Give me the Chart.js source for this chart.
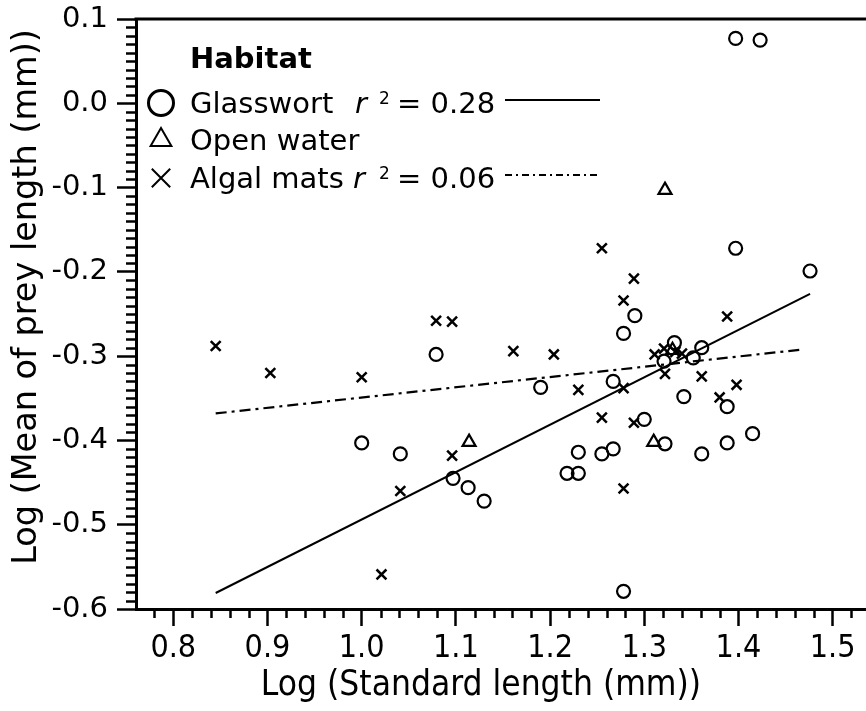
<!DOCTYPE html>
<html>
<head>
<meta charset="utf-8">
<script src="https://cdn.jsdelivr.net/npm/chart.js@4.4.1/dist/chart.umd.min.js"></script>
<style>
  html, body { margin: 0; padding: 0; background: #fff; overflow: hidden; }
  #wrap { width: 866px; height: 711px; }
</style>
</head>
<body>
<div id="wrap"><canvas id="myChart" width="866" height="711"></canvas></div>
<script>
// Glasswort (circles)
var glassX = [1.000, 1.041, 1.079, 1.097, 1.113, 1.130, 1.190, 1.218, 1.230, 1.230,
              1.255, 1.267, 1.267, 1.278, 1.278, 1.290, 1.300, 1.321, 1.322, 1.332,
              1.342, 1.352, 1.361, 1.361, 1.388, 1.388, 1.397, 1.397, 1.415, 1.423, 1.476];
var glassY = [-0.403, -0.416, -0.298, -0.445, -0.456, -0.472, -0.337, -0.439, -0.439, -0.414,
              -0.416, -0.410, -0.330, -0.273, -0.579, -0.252, -0.375, -0.306, -0.404, -0.284,
              -0.348, -0.302, -0.290, -0.416, -0.360, -0.403, -0.172, 0.077, -0.392, 0.075, -0.199];

// Open water (triangles)
var openX = [1.114, 1.310, 1.322, 1.330];
var openY = [-0.402, -0.402, -0.103, -0.293];

// Algal mats (crosses)
var algalX = [0.845, 0.903, 1.000, 1.021, 1.041, 1.079, 1.096, 1.096, 1.161, 1.204,
              1.230, 1.255, 1.255, 1.278, 1.278, 1.278, 1.289, 1.289, 1.311, 1.321,
              1.322, 1.333, 1.340, 1.361, 1.380, 1.388, 1.398];
var algalY = [-0.288, -0.320, -0.325, -0.559, -0.460, -0.258, -0.259, -0.418, -0.294, -0.298,
              -0.340, -0.172, -0.373, -0.234, -0.338, -0.457, -0.208, -0.379, -0.298, -0.291,
              -0.321, -0.295, -0.297, -0.324, -0.349, -0.253, -0.334];

// regression lines
var glassFitX = [0.845, 1.476];
var glassFitY = [-0.581, -0.226];
var algalFitX = [0.845, 1.469];
var algalFitY = [-0.368, -0.292];

// legend text
var habitatTitle = 'Habitat';
var habitatNames = ['Glasswort', 'Open water', 'Algal mats'];
var habitatR2 = ['0.28', null, '0.06'];

// axis
var xTitle = 'Log (Standard length (mm))';
var yTitle = 'Log (Mean of prey length (mm))';
var xMinorStep = 0.02;
var yMinorStep = 0.01;

function toPoints(xs, ys) {
    var out = [];
    for (var i = 0; i < xs.length; i++) {
        out.push({x: xs[i], y: ys[i]});
    }
    return out;
}

var legendFont = '"DejaVu Sans", Verdana, sans-serif';
var narrowFont = '"DejaVu Sans Condensed", "DejaVu Sans", sans-serif';

/******************************************************/
// minor ticks, top frame line, axis titles and the legend box
var extraDraw = {
    id: 'extraDraw',
    afterDraw: function (chart) {
        var ctx = chart.ctx;
        var area = chart.chartArea;
        var xs = chart.scales.x;
        var ys = chart.scales.y;
        var px, py, i;

        ctx.save();
        ctx.strokeStyle = '#000';
        ctx.lineWidth = 2.5;

        // x minor ticks
        for (i = Math.ceil(xs.min / xMinorStep); i * xMinorStep <= xs.max; i++) {
            if (i % 5 === 0) continue;
            px = Math.round(xs.getPixelForValue(i * xMinorStep)) + 0.5;
            ctx.beginPath();
            ctx.moveTo(px, area.bottom);
            ctx.lineTo(px, area.bottom + 9);
            ctx.stroke();
        }
        // y minor ticks
        for (i = Math.ceil(ys.min / yMinorStep - 1e-6); i * yMinorStep <= ys.max + 1e-9; i++) {
            if (i % 10 === 0) continue;
            py = Math.round(ys.getPixelForValue(i * yMinorStep)) + 0.5;
            ctx.beginPath();
            ctx.moveTo(area.left, py);
            ctx.lineTo(area.left - 10, py);
            ctx.stroke();
        }

        // top frame
        ctx.lineWidth = 3;
        ctx.beginPath();
        ctx.moveTo(area.left - 1.5, area.top);
        ctx.lineTo(area.right, area.top);
        ctx.stroke();

        // axis titles
        ctx.fillStyle = '#000';
        ctx.textAlign = 'center';
        ctx.textBaseline = 'middle';
        ctx.font = '35px ' + narrowFont;
        ctx.fillText(xTitle, 481, 686);

        ctx.save();
        ctx.translate(27, 297);
        ctx.rotate(-Math.PI / 2);
        ctx.font = '33.5px ' + legendFont;
        ctx.fillText(yTitle, 0, 0);
        ctx.restore();

        // legend
        ctx.textBaseline = 'alphabetic';
        ctx.textAlign = 'left';
        ctx.font = 'bold 29px ' + legendFont;
        ctx.fillText(habitatTitle, 190, 68);

        var rowY = [103, 140, 178];
        var styles = [
            {pointStyle: 'circle', radius: 12.5, borderWidth: 2},
            {pointStyle: 'triangle', radius: 12, borderWidth: 2},
            {pointStyle: 'crossRot', radius: 13, borderWidth: 2}
        ];
        var rX = [355, null, 353];
        for (i = 0; i < habitatNames.length; i++) {
            ctx.strokeStyle = '#000';
            ctx.fillStyle = 'rgba(0,0,0,0)';
            Chart.helpers.drawPoint(ctx, {
                pointStyle: styles[i].pointStyle,
                radius: styles[i].radius,
                borderWidth: styles[i].borderWidth,
                rotation: 0
            }, 161, rowY[i]);

            ctx.fillStyle = '#000';
            ctx.font = '29px ' + legendFont;
            ctx.fillText(habitatNames[i], 190, rowY[i] + 10);

            if (habitatR2[i]) {
                ctx.font = 'italic 29px ' + legendFont;
                ctx.fillText('r', rX[i], rowY[i] + 10);
                ctx.font = '17px ' + legendFont;
                ctx.fillText('2', 379, rowY[i] + 1);
                ctx.font = '29px ' + legendFont;
                ctx.fillText('= ' + habitatR2[i], 397, rowY[i] + 10);

                ctx.lineWidth = 2;
                ctx.setLineDash(i === 0 ? [] : [7, 4, 2, 4]);
                ctx.beginPath();
                ctx.moveTo(505, rowY[i] - 3);
                ctx.lineTo(600, rowY[i] - 3);
                ctx.stroke();
                ctx.setLineDash([]);
            }
        }
        ctx.restore();
    }
};

/******************************************************/
// Chart
var ctx = document.getElementById('myChart').getContext('2d');
var myChart = new Chart(ctx, {
    type: 'scatter',
    data: {
        datasets: [
            {
                label: 'Glasswort fit',
                data: toPoints(glassFitX, glassFitY),
                showLine: true,
                borderColor: '#000',
                borderWidth: 2,
                pointRadius: 0,
                fill: false
            }, {
                label: 'Algal mats fit',
                data: toPoints(algalFitX, algalFitY),
                showLine: true,
                borderColor: '#000',
                borderWidth: 2.2,
                borderDash: [11, 5, 3, 5],
                pointRadius: 0,
                fill: false
            }, {
                label: 'Glasswort',
                data: toPoints(glassX, glassY),
                pointStyle: 'circle',
                pointRadius: 6.5,
                borderWidth: 2.2,
                borderColor: '#000',
                backgroundColor: 'rgba(0,0,0,0)'
            }, {
                label: 'Open water',
                data: toPoints(openX, openY),
                pointStyle: 'triangle',
                pointRadius: 7.5,
                borderWidth: 2.2,
                borderColor: '#000',
                backgroundColor: 'rgba(0,0,0,0)'
            }, {
                label: 'Algal mats',
                data: toPoints(algalX, algalY),
                pointStyle: 'crossRot',
                pointRadius: 7,
                borderWidth: 2.5,
                borderColor: '#000',
                backgroundColor: 'rgba(0,0,0,0)'
            }
        ]
    },
    options: {
        responsive: false,
        animation: false,
        events: [],
        layout: {autoPadding: false, padding: {top: 19, right: 0, bottom: 0, left: 0}},
        plugins: {
            legend: {display: false},
            tooltip: {enabled: false}
        },
        scales: {
            x: {
                type: 'linear',
                min: 0.7604,
                max: 1.5354,
                afterFit: function (scale) {
                    scale.height = 102;
                    scale.paddingLeft = 0;
                    scale.paddingRight = 0;
                },
                ticks: {
                    stepSize: 0.1,
                    includeBounds: false,
                    autoSkip: false,
                    maxRotation: 0,
                    padding: 3,
                    color: '#000',
                    font: {family: narrowFont, size: 32},
                    callback: function (v) { return v.toFixed(1); }
                },
                grid: {drawOnChartArea: false, tickLength: 17, tickWidth: 2.5, tickColor: '#000'},
                border: {color: '#000', width: 3}
            },
            y: {
                type: 'linear',
                min: -0.6,
                max: 0.1,
                afterFit: function (scale) {
                    scale.width = 136;
                    scale.paddingTop = 0;
                    scale.paddingBottom = 0;
                },
                ticks: {
                    stepSize: 0.1,
                    autoSkip: false,
                    padding: 9,
                    color: '#000',
                    font: {family: legendFont, size: 29},
                    callback: function (v) { return v.toFixed(1); }
                },
                grid: {drawOnChartArea: false, tickLength: 19, tickWidth: 2.5, tickColor: '#000'},
                border: {color: '#000', width: 3}
            }
        }
    },
    plugins: [extraDraw]
});
</script>
</body>
</html>
